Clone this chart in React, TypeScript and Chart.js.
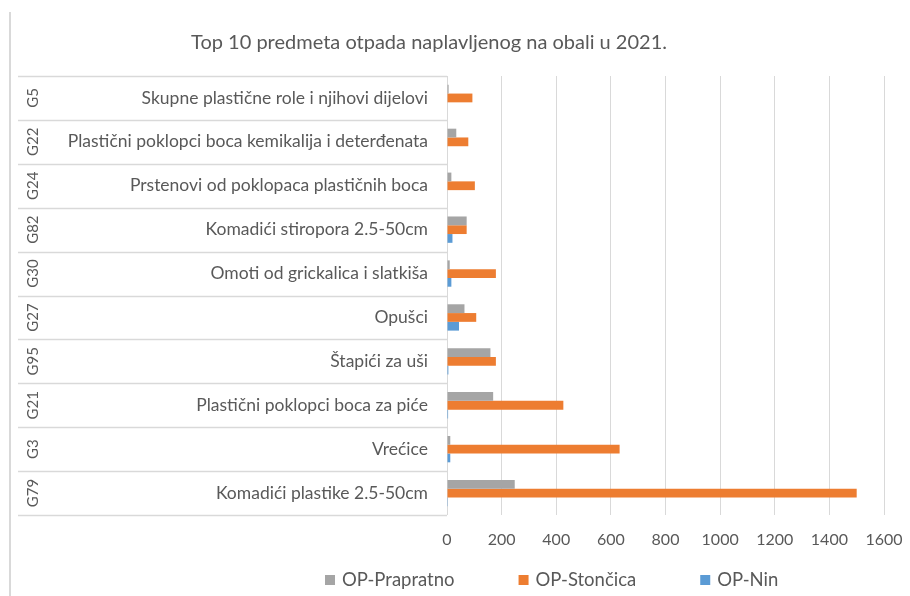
import React, { useEffect, useRef } from "react";
import { Chart, registerables } from "chart.js";

Chart.register(...registerables);

const chartTitle = "Top 10 predmeta otpada naplavljenog na obali u 2021.";
const codes = ["G5", "G22", "G24", "G82", "G30", "G27", "G95", "G21", "G3", "G79"];
const names = [
  "Skupne plastične role i njihovi dijelovi",
  "Plastični poklopci boca kemikalija i deterđenata",
  "Prstenovi od poklopaca plastičnih boca",
  "Komadići stiropora 2.5-50cm",
  "Omoti od grickalica i slatkiša",
  "Opušci",
  "Štapići za uši",
  "Plastični poklopci boca za piće",
  "Vrećice",
  "Komadići plastike 2.5-50cm",
];
const prapratno = [6, 34, 16, 72, 10, 64, 159, 169, 12, 248];
const stoncica = [93, 78, 102, 72, 179, 107, 179, 426, 632, 1500];
const nin = [0, 0, 0, 20, 16, 44, 5, 4, 12, 3];
const seriesNames = ["OP-Prapratno", "OP-Stončica", "OP-Nin"];
const seriesColors = ["#A5A5A5", "#ED7D31", "#5B9BD5"];
const xMin = 0;
const xMax = 1600;
const xStep = 200;

const FONT = "Lato, 'Open Sans', sans-serif";
const TEXT = "#595959";
const LINE = "#d9d9d9";

const tablePlugin = {
  id: "tableAndLegend",
  afterDraw(chart: any) {
    const ctx = chart.ctx as CanvasRenderingContext2D;
    const y = chart.scales.y;
    const area = chart.chartArea;
    ctx.save();
    // title
    ctx.fillStyle = TEXT;
    ctx.font = `20px ${FONT}`;
    ctx.textAlign = "center";
    ctx.textBaseline = "middle";
    ctx.fillText(chartTitle, 429, 43);
    // outer frame left edge
    ctx.strokeStyle = LINE;
    ctx.lineWidth = 2;
    ctx.beginPath();
    ctx.moveTo(10, 12);
    ctx.lineTo(10, chart.height);
    ctx.stroke();
    // row separators in the label table
    ctx.lineWidth = 1.5;
    for (let i = 0; i <= codes.length; i++) {
      const yy = Math.round(y.getPixelForValue(i - 0.5)) + 0.5;
      ctx.beginPath();
      ctx.moveTo(18, yy);
      ctx.lineTo(area.left, yy);
      ctx.stroke();
    }
    // rotated codes
    ctx.fillStyle = TEXT;
    ctx.font = `15px ${FONT}`;
    ctx.textAlign = "center";
    ctx.textBaseline = "middle";
    codes.forEach((c, i) => {
      const yc = y.getPixelForValue(i);
      ctx.save();
      ctx.translate(33, yc);
      ctx.rotate(-Math.PI / 2);
      ctx.fillText(c, 0, 0);
      ctx.restore();
    });
    // legend
    ctx.font = `18.5px ${FONT}`;
    ctx.textAlign = "left";
    const box = 10;
    const gapBox = 7;
    const spacing = 64;
    const widths = seriesNames.map((s) => box + gapBox + ctx.measureText(s).width);
    let x = 325;
    const ly = 580;
    seriesNames.forEach((s, i) => {
      ctx.fillStyle = seriesColors[i];
      ctx.fillRect(x, ly - box / 2, box, box);
      ctx.fillStyle = TEXT;
      ctx.fillText(s, x + box + gapBox, ly);
      x += widths[i] + spacing;
    });
    ctx.restore();
  },
};

export default function App() {
  const ref = useRef<HTMLCanvasElement | null>(null);
  useEffect(() => {
    if (!ref.current) return;
    const datasets = [prapratno, stoncica, nin].map((d, i) => ({
      label: seriesNames[i],
      data: d,
      backgroundColor: seriesColors[i],
      borderWidth: 0,
      categoryPercentage: 0.6,
      barPercentage: 1.0,
    }));
    const chart = new Chart(ref.current, {
      type: "bar",
      data: { labels: names, datasets },
      plugins: [tablePlugin],
      options: {
        indexAxis: "y",
        animation: false,
        responsive: false,
        devicePixelRatio: 1,
        layout: { padding: { left: 0, right: 26, top: 76, bottom: 41 } },
        plugins: {
          legend: { display: false },
          tooltip: { enabled: false },
          title: { display: false },
        },
        scales: {
          x: {
            min: xMin,
            max: xMax,
            ticks: {
              stepSize: xStep,
              color: TEXT,
              font: { family: FONT, size: 16 },
              padding: 15,
              callback: (v: any) => String(v),
            },
            grid: { color: LINE, lineWidth: 1, drawTicks: false },
            border: { display: false },
            afterFit: (s: any) => {
              s.height = 40;
              s.paddingLeft = 0;
              s.paddingRight = 0;
            },
          },
          y: {
            ticks: { color: TEXT, font: { family: FONT, size: 17.5 }, padding: 11 },
            grid: { display: false },
            border: { display: false },
            afterFit: (s: any) => {
              s.width = 447;
              s.paddingTop = 0;
              s.paddingBottom = 0;
            },
          },
        },
      },
    });
    return () => chart.destroy();
  }, []);
  return (
    <div style={{ position: "absolute", left: 0, top: 0, width: 910, height: 596, background: "#fff" }}>
      <canvas ref={ref} width={910} height={596} />
    </div>
  );
}
